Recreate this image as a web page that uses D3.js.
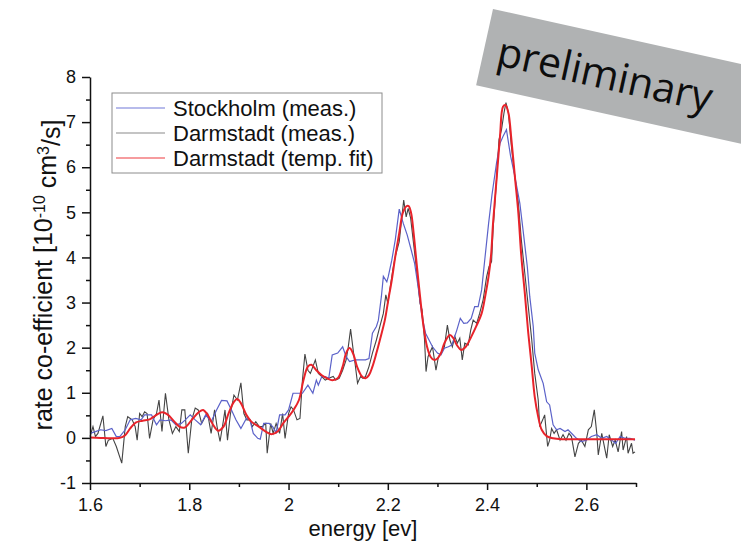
<!DOCTYPE html>
<html lang="en">
<head>
<meta charset="utf-8">
<title>rate co-efficient vs energy</title>
<script src="https://cdnjs.cloudflare.com/ajax/libs/d3/7.8.5/d3.min.js"></script>
<style>
html, body { margin: 0; padding: 0; background: white; }
svg text { font-family: "Liberation Sans", Arial, sans-serif; fill: #111; }
</style>
</head>
<body>
<script>

var w = 741;
var h = 548;

// tick values
var xTicks = [1.6, 1.8, 2.0, 2.2, 2.4, 2.6];
var xMinor = [1.7, 1.9, 2.1, 2.3, 2.5, 2.7];
var yTicks = [-1, 0, 1, 2, 3, 4, 5, 6, 7, 8];
var yMinor = [-0.5, 0.5, 1.5, 2.5, 3.5, 4.5, 5.5, 6.5, 7.5];

var seriesNames = ["Stockholm (meas.)", "Darmstadt (meas.)", "Darmstadt (temp. fit)"];

// [energy eV, rate 1e-10 cm3/s]
var stockholm = [[1.600,0.10],[1.611,0.14],[1.621,0.18],[1.632,0.16],[1.644,0.21],[1.653,0.03],[1.660,0.03],[1.671,0.18],[1.681,0.40],[1.692,0.43],[1.703,0.40],[1.710,0.51],[1.717,0.51],[1.724,0.51],[1.734,0.29],[1.741,0.40],[1.752,0.38],[1.763,0.40],[1.773,0.29],[1.784,0.32],[1.792,0.40],[1.802,0.51],[1.812,0.40],[1.823,0.29],[1.833,0.51],[1.844,0.36],[1.855,0.62],[1.865,0.83],[1.876,0.82],[1.885,0.62],[1.894,0.40],[1.904,0.21],[1.915,0.43],[1.922,0.41],[1.929,0.10],[1.938,-0.01],[1.943,-0.03],[1.950,0.32],[1.961,0.32],[1.968,0.25],[1.975,0.12],[1.982,0.51],[1.993,0.51],[2.000,0.62],[2.009,0.99],[2.017,0.99],[2.028,0.99],[2.039,1.17],[2.049,0.99],[2.056,1.28],[2.060,1.17],[2.067,1.36],[2.074,1.36],[2.081,1.32],[2.088,1.84],[2.099,1.88],[2.109,2.02],[2.116,1.80],[2.123,1.69],[2.134,1.73],[2.145,1.73],[2.155,1.73],[2.162,1.76],[2.169,2.32],[2.177,2.47],[2.181,2.61],[2.187,3.13],[2.191,3.58],[2.198,3.46],[2.201,3.58],[2.208,3.94],[2.215,4.39],[2.223,5.07],[2.231,4.76],[2.239,4.50],[2.247,4.17],[2.254,3.87],[2.261,3.35],[2.269,2.69],[2.276,2.32],[2.283,2.17],[2.290,2.02],[2.300,1.88],[2.307,1.84],[2.314,1.99],[2.322,2.02],[2.329,2.06],[2.339,2.39],[2.346,2.65],[2.353,2.54],[2.360,2.55],[2.368,2.65],[2.375,2.91],[2.382,2.91],[2.389,3.28],[2.396,4.02],[2.403,4.75],[2.410,5.40],[2.419,6.09],[2.426,6.53],[2.432,6.68],[2.439,6.83],[2.447,6.27],[2.456,5.79],[2.466,5.20],[2.474,4.46],[2.481,3.80],[2.486,3.13],[2.493,2.47],[2.496,1.88],[2.503,1.51],[2.513,1.21],[2.520,0.80],[2.526,0.73],[2.533,0.29],[2.540,0.18],[2.547,0.21],[2.557,0.14],[2.563,0.18],[2.572,0.08],[2.580,-0.01],[2.590,-0.08],[2.600,-0.05],[2.610,0.03],[2.621,0.07],[2.631,-0.01],[2.641,0.03],[2.651,-0.05],[2.659,-0.12],[2.668,0.03],[2.678,-0.01],[2.688,-0.01],[2.698,-0.05]];

var darmstadt = [[1.600,0.03],[1.606,0.25],[1.611,0.03],[1.616,0.10],[1.626,0.49],[1.632,-0.19],[1.637,-0.05],[1.646,-0.01],[1.653,-0.19],[1.664,-0.56],[1.671,0.25],[1.676,0.47],[1.685,0.40],[1.691,0.25],[1.695,-0.05],[1.700,0.54],[1.705,0.47],[1.710,0.58],[1.715,0.54],[1.720,-0.01],[1.727,0.40],[1.734,0.54],[1.739,0.84],[1.745,0.14],[1.752,0.99],[1.759,0.40],[1.766,0.10],[1.773,0.25],[1.780,0.14],[1.785,0.62],[1.791,0.62],[1.798,-0.34],[1.805,0.40],[1.812,0.66],[1.818,0.62],[1.825,0.32],[1.832,0.47],[1.837,0.54],[1.844,0.10],[1.851,0.62],[1.856,0.25],[1.862,-0.08],[1.869,0.40],[1.872,0.62],[1.877,-0.05],[1.883,0.54],[1.890,0.95],[1.897,0.84],[1.904,1.22],[1.910,0.54],[1.916,0.40],[1.922,0.40],[1.927,0.25],[1.934,0.36],[1.941,0.25],[1.947,0.25],[1.954,0.32],[1.957,-0.34],[1.964,0.32],[1.969,0.10],[1.975,0.32],[1.982,0.10],[1.988,0.54],[1.993,-0.01],[2.000,0.54],[2.005,0.69],[2.010,0.62],[2.017,0.40],[2.023,0.43],[2.028,1.28],[2.033,1.86],[2.039,1.50],[2.044,1.43],[2.049,1.58],[2.054,1.73],[2.060,1.43],[2.067,1.36],[2.074,1.28],[2.081,1.32],[2.090,1.36],[2.095,1.28],[2.102,1.32],[2.109,1.50],[2.116,1.73],[2.120,1.99],[2.125,2.41],[2.131,1.88],[2.134,1.65],[2.139,1.21],[2.145,1.36],[2.150,1.32],[2.155,1.36],[2.162,1.58],[2.169,1.88],[2.177,2.17],[2.184,2.47],[2.191,2.76],[2.196,3.17],[2.200,2.98],[2.205,3.35],[2.210,3.72],[2.215,4.02],[2.223,4.35],[2.227,4.76],[2.232,5.27],[2.237,4.90],[2.241,5.09],[2.246,4.87],[2.251,4.39],[2.258,3.72],[2.265,2.98],[2.269,2.84],[2.274,2.17],[2.277,1.47],[2.281,1.80],[2.290,2.02],[2.297,1.50],[2.302,1.80],[2.307,1.88],[2.314,2.02],[2.320,2.50],[2.325,2.17],[2.330,2.02],[2.335,2.25],[2.340,2.10],[2.345,2.21],[2.350,1.73],[2.355,2.10],[2.362,2.06],[2.367,2.39],[2.372,2.61],[2.379,2.54],[2.385,2.76],[2.392,3.06],[2.399,3.57],[2.404,3.80],[2.409,3.91],[2.412,4.61],[2.419,5.72],[2.424,6.61],[2.429,6.83],[2.434,7.20],[2.438,7.43],[2.443,7.20],[2.449,6.46],[2.456,5.79],[2.463,5.20],[2.469,4.39],[2.476,3.65],[2.483,2.91],[2.490,2.17],[2.496,1.43],[2.503,0.84],[2.506,0.25],[2.512,0.40],[2.516,0.51],[2.522,-0.19],[2.526,-0.05],[2.530,0.21],[2.535,0.10],[2.540,0.18],[2.547,-0.05],[2.553,0.07],[2.559,-0.05],[2.565,0.10],[2.570,0.03],[2.577,-0.42],[2.584,-0.12],[2.590,-0.05],[2.597,-0.19],[2.604,0.18],[2.610,0.25],[2.616,0.62],[2.621,0.10],[2.624,-0.38],[2.631,0.10],[2.635,-0.12],[2.641,-0.45],[2.646,0.07],[2.653,-0.19],[2.658,-0.05],[2.664,-0.31],[2.671,0.14],[2.674,-0.27],[2.681,0.03],[2.684,-0.34],[2.691,-0.12],[2.694,-0.34],[2.698,-0.31]];

var darmstadtFit = [[1.600,0.01],[1.621,0.00],[1.642,-0.01],[1.660,0.00],[1.671,0.06],[1.681,0.21],[1.692,0.34],[1.706,0.38],[1.720,0.41],[1.731,0.49],[1.745,0.57],[1.756,0.52],[1.770,0.36],[1.780,0.25],[1.791,0.23],[1.805,0.40],[1.819,0.57],[1.828,0.62],[1.837,0.51],[1.848,0.29],[1.858,0.16],[1.869,0.25],[1.879,0.54],[1.890,0.80],[1.897,0.86],[1.904,0.77],[1.915,0.51],[1.925,0.36],[1.940,0.25],[1.954,0.14],[1.966,0.08],[1.978,0.14],[1.989,0.32],[2.000,0.47],[2.010,0.62],[2.021,0.84],[2.030,1.28],[2.039,1.58],[2.046,1.62],[2.056,1.50],[2.067,1.39],[2.078,1.32],[2.088,1.28],[2.099,1.32],[2.109,1.58],[2.116,1.88],[2.123,1.99],[2.131,1.84],[2.138,1.58],[2.148,1.36],[2.155,1.32],[2.162,1.39],[2.169,1.58],[2.177,1.88],[2.184,2.17],[2.194,2.61],[2.201,3.06],[2.208,3.50],[2.215,4.02],[2.223,4.54],[2.230,4.98],[2.237,5.13],[2.242,5.14],[2.247,4.98],[2.252,4.54],[2.258,3.87],[2.265,3.13],[2.272,2.47],[2.279,2.02],[2.286,1.80],[2.293,1.73],[2.300,1.76],[2.307,1.88],[2.314,2.10],[2.325,2.28],[2.332,2.21],[2.339,2.06],[2.348,1.95],[2.357,2.02],[2.368,2.24],[2.378,2.47],[2.389,2.76],[2.396,3.13],[2.403,3.58],[2.408,4.05],[2.412,4.76],[2.419,5.72],[2.426,6.68],[2.432,7.34],[2.437,7.38],[2.443,7.20],[2.449,6.61],[2.456,5.79],[2.463,4.98],[2.469,4.02],[2.476,3.21],[2.483,2.32],[2.490,1.58],[2.496,0.91],[2.503,0.47],[2.510,0.18],[2.520,0.04],[2.533,-0.01],[2.553,-0.03],[2.600,-0.03],[2.698,-0.03]];

var colors = ["#5b62c9", "#444444", "#e8232a"];
var legendColors = ["#7078d8", "#8a8a8a", "#ee3a3e"];

var svg = d3.select("body")
			.append("svg")
			.attr("width", w)
			.attr("height", h);

svg.append("rect")
	.attr("width", w)
	.attr("height", h)
	.attr("fill", "white");

var x = d3.scaleLinear()
			.domain([1.6, 2.7])
			.range([90, 636]);

var y = d3.scaleLinear()
			.domain([-1, 8])
			.range([483, 77]);

//minor ticks first, main axes on top
svg.append("g")
	.attr("transform", "translate(0," + y(-1) + ")")
	.call(d3.axisBottom(x).tickValues(xMinor).tickSize(4).tickFormat("").tickSizeOuter(0))
	.call(function(g) { g.select(".domain").remove(); g.selectAll("line").attr("stroke", "#111").attr("stroke-width", 1.5); });

svg.append("g")
	.attr("transform", "translate(" + x(1.6) + ",0)")
	.call(d3.axisLeft(y).tickValues(yMinor).tickSize(4).tickFormat("").tickSizeOuter(0))
	.call(function(g) { g.select(".domain").remove(); g.selectAll("line").attr("stroke", "#111").attr("stroke-width", 1.5); });

var xAxis = d3.axisBottom(x)
				.tickValues(xTicks)
				.tickFormat(d3.format("~g"))
				.tickSize(7)
				.tickPadding(8)
				.tickSizeOuter(0);

var yAxis = d3.axisLeft(y)
				.tickValues(yTicks)
				.tickFormat(function(d) { return String(d); })
				.tickSize(8)
				.tickPadding(6)
				.tickSizeOuter(0);

//lines
var line = d3.line()
			.x(function(d) { return x(d[0]); })
			.y(function(d) { return y(d[1]); });

var smooth = d3.line()
			.x(function(d) { return x(d[0]); })
			.y(function(d) { return y(d[1]); })
			.curve(d3.curveCatmullRom.alpha(0.5));

svg.append("path")
	.datum(darmstadt)
	.attr("d", line)
	.attr("fill", "none")
	.attr("stroke", colors[1])
	.attr("stroke-width", 1.1);

svg.append("path")
	.datum(stockholm)
	.attr("d", line)
	.attr("fill", "none")
	.attr("stroke", colors[0])
	.attr("stroke-width", 1.2);

svg.append("path")
	.datum(darmstadtFit)
	.attr("d", smooth)
	.attr("fill", "none")
	.attr("stroke", colors[2])
	.attr("stroke-width", 2);

var gx = svg.append("g")
	.attr("transform", "translate(0," + y(-1) + ")")
	.call(xAxis);

var gy = svg.append("g")
	.attr("transform", "translate(" + x(1.6) + ",0)")
	.call(yAxis);

[gx, gy].forEach(function(g) {
	g.attr("font-family", null).attr("font-size", null);
	g.selectAll("path, line").attr("stroke", "#111").attr("stroke-width", 1.5);
	g.selectAll("text").style("font-size", "18px");
});

//axis titles
svg.append("text")
	.attr("x", (x(1.6) + x(2.7)) / 2)
	.attr("y", 536)
	.attr("text-anchor", "middle")
	.style("font-size", "22px")
	.text("energy [ev]");

var ylab = svg.append("text")
	.attr("transform", "translate(52,275) rotate(-90)")
	.attr("text-anchor", "middle")
	.style("font-size", "25px");
ylab.append("tspan").text("rate co-efficient [10");
ylab.append("tspan").attr("dy", "-0.45em").style("font-size", "16px").text("-10");
ylab.append("tspan").attr("dy", "0.45em").text(" cm");
ylab.append("tspan").attr("dy", "-0.45em").style("font-size", "16px").text("3");
ylab.append("tspan").attr("dy", "0.45em").text("/s]");

//legend
var legend = svg.append("g");

legend.append("rect")
	.attr("x", 112)
	.attr("y", 93)
	.attr("width", 270)
	.attr("height", 80)
	.attr("fill", "white")
	.attr("stroke", "#8c8c8c")
	.attr("stroke-width", 1);

seriesNames.forEach(function(name, i) {
	var ly = 108 + i * 25;
	legend.append("line")
		.attr("x1", 116)
		.attr("x2", 165)
		.attr("y1", ly)
		.attr("y2", ly)
		.attr("stroke", legendColors[i])
		.attr("stroke-width", 1.2);
	legend.append("text")
		.attr("x", 173)
		.attr("y", ly + 8)
		.style("font-size", "22px")
		.text(name);
});

//preliminary banner
var banner = svg.append("g")
	.attr("transform", "translate(493,9) rotate(12.5)");

banner.append("rect")
	.attr("x", 0)
	.attr("y", 0)
	.attr("width", 320)
	.attr("height", 78)
	.attr("fill", "#b0b2b3");

banner.append("text")
	.attr("x", 14)
	.attr("y", 54)
	.style("font-family", "'Open Sans', sans-serif")
	.style("font-size", "41px")
	.style("fill", "#0d0d0d")
	.text("preliminary");

</script>
</body>
</html>
